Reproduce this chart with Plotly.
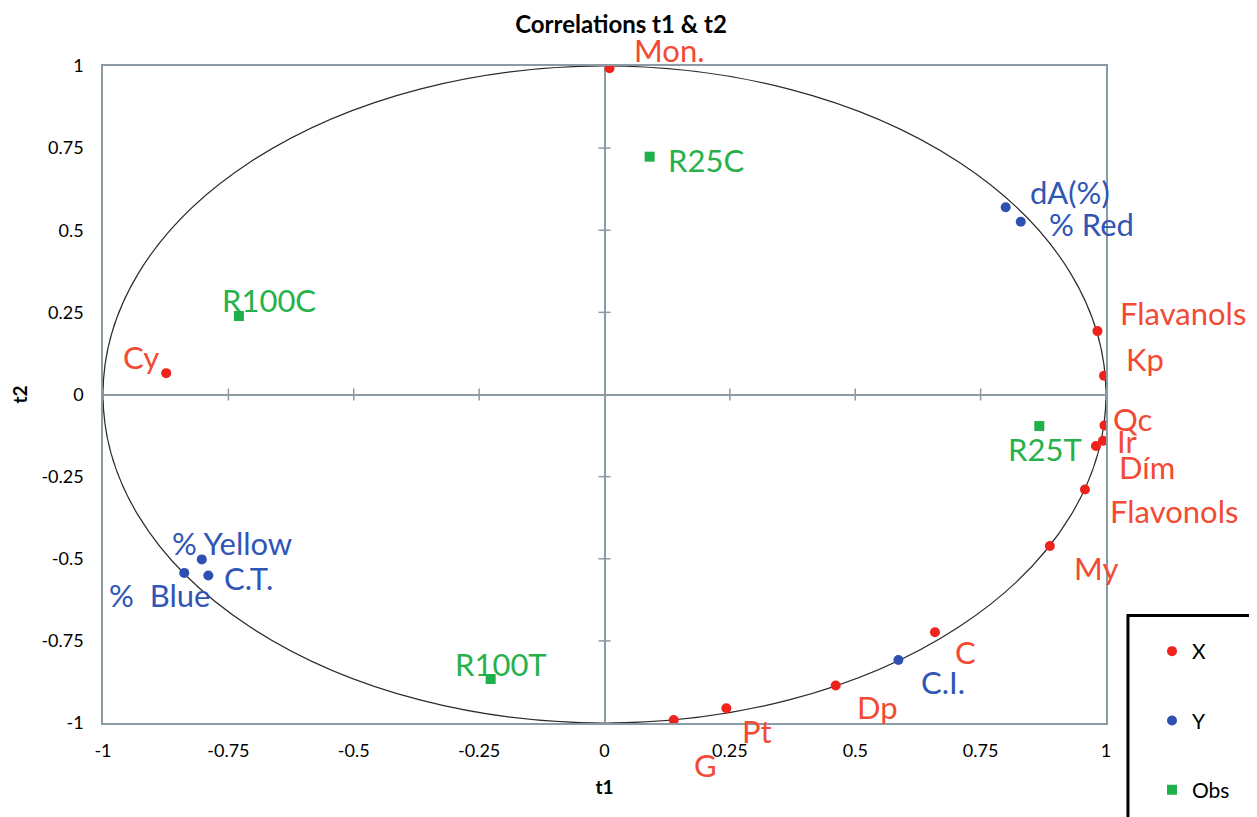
import plotly.graph_objects as go

# ---- data ----
x_names = ["Mon.", "Cy", "Flavanols", "Kp", "Qc", "Ir", "Dím", "Flavonols", "My", "C", "Dp", "Pt", "G"]
x_t1 = [0.01, -0.874, 0.983, 0.996, 0.997, 0.994, 0.980, 0.958, 0.888, 0.659, 0.461, 0.243, 0.138]
x_t2 = [0.993, 0.065, 0.193, 0.057, -0.094, -0.141, -0.157, -0.289, -0.461, -0.724, -0.886, -0.955, -0.991]

y_names = ["dA(%)", "% Red", "% Yellow", "C.T.", "%\u00a0 Blue", "C.I."]
y_t1 = [0.800, 0.830, -0.803, -0.790, -0.838, 0.586]
y_t2 = [0.570, 0.526, -0.502, -0.551, -0.543, -0.808]

obs_names = ["R25C", "R100C", "R25T", "R100T"]
obs_t1 = [0.090, -0.729, 0.867, -0.227]
obs_t2 = [0.724, 0.239, -0.096, -0.866]

tick_vals = [-1, -0.75, -0.5, -0.25, 0, 0.25, 0.5, 0.75, 1]
tick_text = ["-1", "-0.75", "-0.5", "-0.25", "0", "0.25", "0.5", "0.75", "1"]

# label offsets in pixels (styling)
x_off = [(60, 18), (-25, 16), (86, 18), (41, 17), (28, 6), (24, 0), (51, -21),
         (89, -22), (46, -22), (31, -20), (42, -21), (31, -23), (32, -45)]
y_off = [(64, 15), (71, -2), (30, 16), (40, -2), (-25, -22), (45, -22)]
obs_off = [(56, -3), (30, 16), (6, -23), (10, 15)]

RED = "#F0221C"
RED_T = "#F24A33"
BLUE = "#2E50B2"
BLUE_T = "#2F55B5"
GREEN = "#1EB04A"
GREEN_T = "#27B14B"
AX = "#8C9AA4"
FONT = "Lato"

fig = go.Figure()
fig.add_trace(go.Scatter(x=x_t1, y=x_t2, mode="markers", name="X", legendgroup="X",
                         marker=dict(color=RED, size=10, symbol="circle")))
fig.add_trace(go.Scatter(x=y_t1, y=y_t2, mode="markers", name="Y", legendgroup="Y",
                         marker=dict(color=BLUE, size=10, symbol="circle")))
fig.add_trace(go.Scatter(x=obs_t1, y=obs_t2, mode="markers", name="Obs", legendgroup="Obs",
                         marker=dict(color=GREEN, size=10, symbol="square")))

annotations = []
for names, xs, ys, offs, col in [(x_names, x_t1, x_t2, x_off, RED_T),
                                 (y_names, y_t1, y_t2, y_off, BLUE_T),
                                 (obs_names, obs_t1, obs_t2, obs_off, GREEN_T)]:
    for n, xv, yv, (dx, dy) in zip(names, xs, ys, offs):
        annotations.append(dict(x=xv, y=yv, xref="x", yref="y", text=n, showarrow=False,
                                xshift=dx, yshift=dy, font=dict(family=FONT, size=31, color=col)))

shapes = [dict(type="circle", xref="x", yref="y", x0=-1, y0=-1, x1=1, y1=1,
               line=dict(color="#2a2a2a", width=1.2), layer="below")]
for v in tick_vals:
    if v == 0:
        continue
    shapes.append(dict(type="line", xref="x", yref="y", xsizemode="scaled", ysizemode="pixel",
                       yanchor=0, x0=v, x1=v, y0=-6, y1=6, line=dict(color=AX, width=1.5), layer="below"))
    shapes.append(dict(type="line", xref="x", yref="y", xsizemode="pixel", xanchor=0,
                       x0=-6, x1=6, y0=v, y1=v, line=dict(color=AX, width=1.5), layer="below"))
# legend frame (extends past the figure edge as in the reference)
shapes.append(dict(type="rect", xref="paper", yref="paper", x0=1.0219, x1=1.3, y0=-0.4, y1=0.1636,
                   line=dict(color="black", width=3), fillcolor="rgba(0,0,0,0)"))

axis_common = dict(range=[-1, 1], tickvals=tick_vals, ticktext=tick_text, showgrid=False,
                   zeroline=True, zerolinecolor=AX, zerolinewidth=1.5,
                   showline=True, linecolor=AX, linewidth=1.5, mirror=True,
                   ticks="outside", tickcolor="rgba(0,0,0,0)", automargin=False,
                   tickfont=dict(family=FONT, size=18, color="black"))

fig.update_layout(
    width=1257, height=817,
    margin=dict(l=95, r=159, t=58, b=102),
    paper_bgcolor="white", plot_bgcolor="white",
    font=dict(family=FONT, color="black"),
    title=dict(text="<b>Correlations t1 & t2</b>", x=613 / 1257, xanchor="center",
               y=1 - 17 / 817, yanchor="middle", font=dict(family=FONT, size=24, color="black")),
    xaxis=dict(**axis_common, ticklen=11,
               title=dict(text="<b>t1</b>", standoff=20, font=dict(family=FONT, size=19, color="black"))),
    yaxis=dict(**axis_common, ticklen=14,
               title=dict(text="<b>t2</b>", standoff=21, font=dict(family=FONT, size=19, color="black"))),
    annotations=annotations,
    shapes=shapes,
    showlegend=True,
    legend=dict(xref="container", yref="container", x=1144 / 1257, y=1 - 623 / 817,
                xanchor="left", yanchor="top", traceorder="grouped", tracegroupgap=39,
                bgcolor="rgba(0,0,0,0)", borderwidth=0,
                font=dict(family=FONT, size=21, color="black")),
)

fig.write_html("out.html")
